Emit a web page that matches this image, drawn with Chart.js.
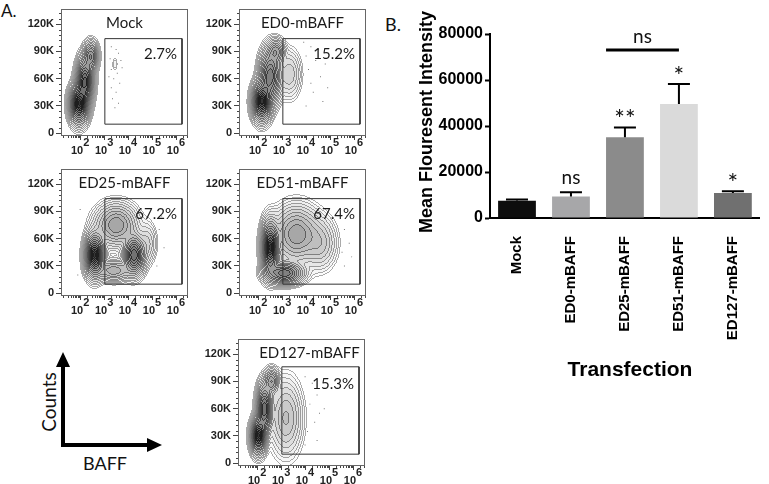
<!DOCTYPE html>
<html>
<head>
<meta charset="utf-8">
<script src="https://cdn.jsdelivr.net/npm/chart.js@4.4.0/dist/chart.umd.min.js"></script>
<style>
  html, body { margin: 0; padding: 0; background: #fff; }
  body { width: 769px; height: 484px; position: relative; overflow: hidden; font-family: Lato, "Open Sans", sans-serif; color: #111; }
  canvas { position: absolute; }
  .lbl { position: absolute; white-space: nowrap; line-height: 1; }
</style>
</head>
<body>
<div class="lbl" style="left:1px; top:2px; font-size:17px;">A.</div>
<div class="lbl" style="left:385px; top:15px; font-size:18px;">B.</div>
<div class="lbl" style="left:48px; top:402px; font-size:19px; transform:translate(-50%,-50%) rotate(-90deg);">Counts</div>
<div class="lbl" style="left:83px; top:454px; font-size:18px;">BAFF</div>
<svg style="position:absolute; left:0; top:330px;" width="180" height="130">
  <line x1="63" y1="117" x2="63" y2="34" stroke="#000" stroke-width="4"/>
  <polygon points="63,22 56,37 70,37" fill="#000"/>
  <line x1="61" y1="115" x2="150" y2="115" stroke="#000" stroke-width="4"/>
  <polygon points="162,115 147,108 147,122" fill="#000"/>
</svg>
<canvas id="barChart" width="389" height="484" style="left:380px; top:0px;"></canvas>

<script>
// ---- flow panels (BAFF vs counts) ----
const flowNames = ["Mock", "ED0-mBAFF", "ED25-mBAFF", "ED51-mBAFF", "ED127-mBAFF"];
const flowPct = ["2.7%", "15.2%", "67.2%", "67.4%", "15.3%"];
const flowYTicks = [0, 30000, 60000, 90000, 120000];
const flowXDecades = [2, 3, 4, 5, 6];
// gate corners: log10(BAFF) and counts (K)
const gateXLog = [[3.03, 6.25], [3.03, 6.25], [3.03, 6.25], [3.03, 6.25], [3.03, 6.25]];
const gateYK = [[10, 104], [10, 104], [10, 104], [10, 104], [10, 106]];

// cell populations: centre (log10 x, K), spread, weight
const mockPops = [
  { x: 1.95, y: 32, sx: 0.2, sy: 11, w: 1 },
  { x: 2.2, y: 58, sx: 0.18, sy: 13, w: 0.85 },
  { x: 2.45, y: 85, sx: 0.15, sy: 8, w: 0.5 },
  { x: 3.45, y: 76, sx: 0.05, sy: 4, w: 0.03 },
];
const ed0Pops = [
  { x: 2.15, y: 35, sx: 0.2, sy: 11, w: 1 },
  { x: 2.5, y: 63, sx: 0.22, sy: 15, w: 0.7 },
  { x: 2.75, y: 90, sx: 0.18, sy: 7, w: 0.35 },
  { x: 3.3, y: 65, sx: 0.25, sy: 14, w: 0.13 },
];
const ed25Pops = [
  { x: 2.6, y: 42, sx: 0.2, sy: 12, w: 1 },
  { x: 4.25, y: 42, sx: 0.22, sy: 11, w: 0.8 },
  { x: 3.5, y: 75, sx: 0.45, sy: 12, w: 0.4 },
  { x: 3.4, y: 25, sx: 0.4, sy: 6, w: 0.3 },
  { x: 4.8, y: 55, sx: 0.2, sy: 12, w: 0.1 },
];
const ed51Pops = [
  { x: 2.5, y: 50, sx: 0.18, sy: 15, w: 1 },
  { x: 3.1, y: 22, sx: 0.4, sy: 6, w: 0.7 },
  { x: 3.6, y: 65, sx: 0.5, sy: 16, w: 0.4 },
  { x: 4.6, y: 55, sx: 0.35, sy: 15, w: 0.15 },
];
const ed127Pops = [
  { x: 2.05, y: 30, sx: 0.16, sy: 10, w: 1 },
  { x: 2.3, y: 60, sx: 0.16, sy: 14, w: 0.8 },
  { x: 2.6, y: 90, sx: 0.15, sy: 7, w: 0.4 },
  { x: 3.2, y: 50, sx: 0.35, sy: 22, w: 0.2 },
];
const flowPops = [mockPops, ed0Pops, ed25Pops, ed51Pops, ed127Pops];

// sparse single events outside the contours: [log10 x, K]
const mockDots = [[3.3, 95], [3.5, 92], [3.6, 88], [3.25, 82], [3.7, 80], [3.3, 70], [3.55, 66], [3.4, 60], [3.65, 55], [3.3, 50], [3.5, 45], [3.35, 38], [3.6, 33], [3.45, 28], [3.2, 62], [3.75, 72]];
const ed0Dots = [[3.9, 100], [4.2, 95], [4.5, 92], [4.0, 85], [4.4, 80], [4.8, 76], [4.1, 70], [4.6, 62], [4.2, 55], [4.9, 50], [4.3, 45], [4.0, 30], [4.7, 35], [1.7, 15]];
const ed25Dots = [[5.3, 70], [5.5, 50], [5.2, 30], [2.0, 92], [5.4, 85], [1.9, 20]];
const ed51Dots = [[5.6, 70], [5.8, 55], [5.5, 45], [5.9, 40], [5.7, 85], [5.6, 30]];
const ed127Dots = [[4.0, 95], [4.3, 88], [4.5, 75], [4.2, 65], [4.6, 55], [4.4, 45], [4.1, 35], [4.5, 25], [4.8, 60], [4.0, 20]];
const flowDots = [mockDots, ed0Dots, ed25Dots, ed51Dots, ed127Dots];

// ---- bar chart (mean fluorescence) ----
const barCats = ["Mock", "ED0-mBAFF", "ED25-mBAFF", "ED51-mBAFF", "ED127-mBAFF"];
const barMeans = [7500, 9300, 35100, 49600, 10900];
const barErrors = [500, 1900, 4300, 8700, 700];
const barSig = ["", "ns", "**", "*", "*"];
const barYTicks = [0, 20000, 40000, 60000, 80000];
const bracketCats = [2, 3];
const bracketValue = 73000;
const bracketLabel = "ns";

const barColors = ["#0d0d0d", "#a7a7a9", "#8b8b8b", "#dadada", "#707070"];
const sans = '"Liberation Sans", Arial, sans-serif';
const calib = 'Lato, "Open Sans", sans-serif';

// frame position (page px) of each flow panel
const flowFrames = [
  { left: 61, top: 5 }, { left: 239, top: 5 },
  { left: 61, top: 165 }, { left: 239, top: 165 },
  { left: 238, top: 335 },
];

function drawDensity(chart, pops) {
  const a = chart.chartArea, xs = chart.scales.x, ys = chart.scales.y;
  const x0 = Math.round(a.left), y0 = Math.round(a.top);
  const w = Math.round(a.right) - x0, h = Math.round(a.bottom) - y0;
  const dens = new Float32Array(w * h);
  let max = 0;
  for (let j = 0; j < h; j++) {
    const yv = ys.getValueForPixel(y0 + j + 0.5) / 1000;
    for (let i = 0; i < w; i++) {
      const xv = Math.log10(xs.getValueForPixel(x0 + i + 0.5));
      let d = 0;
      for (const p of pops) {
        const dx = (xv - p.x) / p.sx, dy = (yv - p.y) / p.sy;
        d += p.w * Math.exp(-0.5 * (dx * dx + dy * dy));
      }
      dens[j * w + i] = d;
      if (d > max) max = d;
    }
  }
  const N = 18, R = 3.0;
  const band = new Int16Array(w * h);
  for (let k = 0; k < w * h; k++) {
    const d = dens[k] / max;
    const r = d > 0 ? Math.sqrt(-2 * Math.log(d)) : 99;
    band[k] = r >= R ? N : Math.floor((r / R) * N);
  }
  const img = chart.ctx.createImageData(w, h);
  for (let j = 0; j < h; j++) {
    for (let i = 0; i < w; i++) {
      const k = j * w + i, b = band[k];
      let line = false;
      if (i > 0 && band[k - 1] < b) line = true;
      if (i < w - 1 && band[k + 1] < b) line = true;
      if (j > 0 && band[k - w] < b) line = true;
      if (j < h - 1 && band[k + w] < b) line = true;
      if (b >= N && !line) continue;
      const fill = b >= N ? 255 : 255 - 200 * Math.pow(1 - b / N, 1.4);
      const g = line ? Math.max(30, fill - 85) : fill;
      img.data[k * 4] = g; img.data[k * 4 + 1] = g; img.data[k * 4 + 2] = g; img.data[k * 4 + 3] = 255;
    }
  }
  chart.ctx.putImageData(img, x0, y0);
}

const flowPlugin = {
  id: "flow",
  beforeDatasetsDraw(chart, args, opts) {
    drawDensity(chart, flowPops[opts.idx]);
  },
  afterDatasetsDraw(chart, args, opts) {
    const ctx = chart.ctx, a = chart.chartArea, xs = chart.scales.x, ys = chart.scales.y;
    const idx = opts.idx;
    ctx.save();
    // frame
    ctx.strokeStyle = "#666";
    ctx.lineWidth = 1;
    ctx.strokeRect(Math.round(a.left) + 0.5, Math.round(a.top) + 0.5, Math.round(a.right - a.left) - 1, Math.round(a.bottom - a.top) - 1);
    // log ticks under the x axis
    ctx.strokeStyle = "#444";
    ctx.beginPath();
    for (let d = 1; d <= 6; d++) {
      for (let m = 1; m <= 9; m++) {
        const v = m * Math.pow(10, d);
        if (v < xs.min || v > xs.max) continue;
        const px = Math.round(xs.getPixelForValue(v)) + 0.5;
        ctx.moveTo(px, a.bottom);
        ctx.lineTo(px, a.bottom + (m === 1 ? 4 : 2));
      }
    }
    // minor ticks on y
    for (let v = 6000; v < 137000; v += 6000) {
      if (v % 30000 === 0) continue;
      const py = Math.round(ys.getPixelForValue(v)) + 0.5;
      ctx.moveTo(a.left, py);
      ctx.lineTo(a.left - 2, py);
    }
    ctx.stroke();
    // x tick labels 10^n
    ctx.fillStyle = "#222";
    ctx.font = "bold 11px " + sans;
    ctx.textBaseline = "alphabetic";
    flowXDecades.forEach((d) => {
      const px = xs.getPixelForValue(Math.pow(10, d));
      ctx.textAlign = "right";
      ctx.fillText("10", px + 3, a.bottom + 18);
      ctx.textAlign = "left";
      ctx.fillText(String(d), px + 3, a.bottom + 10);
    });
    // title and gate percentage
    ctx.font = "15px " + calib;
    ctx.textBaseline = "middle";
    ctx.textAlign = "center";
    ctx.fillStyle = "#1a1a1a";
    ctx.fillText(flowNames[idx], (a.left + a.right) / 2 + (idx === 4 ? 8 : 0), a.top + 15);
    ctx.textAlign = "right";
    ctx.fillText(flowPct[idx], a.right - 11, a.top + 46);
    ctx.restore();
  },
};

flowFrames.forEach((f, idx) => {
  const cv = document.createElement("canvas");
  cv.width = 195;
  cv.height = 160;
  cv.style.left = f.left - 61 + "px";
  cv.style.top = f.top - 5 + "px";
  document.body.appendChild(cv);
  const gx = gateXLog[idx].map((v) => Math.pow(10, v));
  const gy = gateYK[idx].map((v) => v * 1000);
  const gatePts = [
    { x: gx[0], y: gy[0] }, { x: gx[0], y: gy[1] },
    { x: gx[1], y: gy[1] }, { x: gx[1], y: gy[0] }, { x: gx[0], y: gy[0] },
  ];
  const dotPts = flowDots[idx].map((p) => ({ x: Math.pow(10, p[0]), y: p[1] * 1000 }));
  new Chart(cv, {
    type: "scatter",
    data: {
      datasets: [
        {
          data: dotPts, showLine: false, pointRadius: 0.7, pointBorderWidth: 0,
          pointBackgroundColor: "#777", pointStyle: "rect",
        },
        {
          data: gatePts, showLine: true, borderColor: "#333", borderWidth: 1,
          pointRadius: 0, fill: false, tension: 0,
        },
      ],
    },
    options: {
      responsive: false,
      animation: false,
      devicePixelRatio: 1,
      layout: { padding: { top: 5, right: 7, left: 0, bottom: 0 } },
      plugins: { legend: { display: false }, tooltip: { enabled: false }, flow: { idx } },
      scales: {
        x: {
          type: "logarithmic",
          min: Math.pow(10, 1.2),
          max: Math.pow(10, 6.5),
          ticks: { display: false },
          grid: { display: false },
          border: { display: false },
          afterFit: (s) => { s.height = 24; },
        },
        y: {
          min: -3000,
          max: 137000,
          afterBuildTicks: (s) => { s.ticks = flowYTicks.map((v) => ({ value: v })); },
          ticks: {
            font: { family: sans, size: 11, weight: "bold" },
            color: "#222",
            padding: 2,
            callback: (v) => (v === 0 ? "0" : v / 1000 + "K"),
          },
          grid: { drawOnChartArea: false, tickLength: 5, color: "#444" },
          border: { display: false },
          afterFit: (s) => { s.width = 61; },
        },
      },
    },
    plugins: [flowPlugin],
  });
});

// ---- bar chart ----
const barPlugin = {
  id: "barExtras",
  afterDatasetsDraw(chart) {
    const ctx = chart.ctx, ys = chart.scales.y;
    const bars = chart.getDatasetMeta(0).data;
    ctx.save();
    ctx.strokeStyle = "#000";
    ctx.fillStyle = "#111";
    ctx.lineWidth = 2;
    bars.forEach((bar, i) => {
      const yTop = ys.getPixelForValue(barMeans[i] + barErrors[i]);
      const yBase = ys.getPixelForValue(barMeans[i]);
      ctx.beginPath();
      ctx.moveTo(bar.x, yBase);
      ctx.lineTo(bar.x, yTop);
      ctx.moveTo(bar.x - 11, yTop);
      ctx.lineTo(bar.x + 11, yTop);
      ctx.stroke();
      if (barSig[i]) {
        const star = barSig[i].charAt(0) === "*";
        ctx.font = (star ? "25px " : "19px ") + calib;
        ctx.textAlign = "center";
        ctx.textBaseline = "alphabetic";
        ctx.fillText(barSig[i], bar.x, star ? yTop + 1 : yTop - 8);
      }
    });
    // significance bracket
    const b0 = bars[bracketCats[0]], b1 = bars[bracketCats[1]];
    const by = ys.getPixelForValue(bracketValue);
    ctx.lineWidth = 3;
    ctx.beginPath();
    ctx.moveTo(b0.x - b0.width / 2, by);
    ctx.lineTo(b1.x, by);
    ctx.stroke();
    ctx.font = "19px " + calib;
    ctx.textAlign = "center";
    ctx.fillText(bracketLabel, (b0.x - b0.width / 2 + b1.x) / 2, by - 7);
    // axis titles
    ctx.fillStyle = "#000";
    ctx.font = "bold 18px " + sans;
    ctx.textBaseline = "middle";
    ctx.save();
    ctx.translate(47, 122);
    ctx.rotate(-Math.PI / 2);
    ctx.fillText("Mean Flouresent Intensity", 0, 0);
    ctx.restore();
    ctx.font = "bold 21px " + sans;
    ctx.fillText("Transfection", 250, 370);
    ctx.restore();
  },
};

new Chart(document.getElementById("barChart"), {
  type: "bar",
  data: {
    labels: barCats,
    datasets: [{
      data: barMeans,
      backgroundColor: barColors,
      borderWidth: 0,
      barPercentage: 0.7,
      categoryPercentage: 1.0,
    }],
  },
  options: {
    responsive: false,
    animation: false,
    devicePixelRatio: 1,
    layout: { padding: { top: 34, right: 1, left: 0, bottom: 0 } },
    plugins: { legend: { display: false }, tooltip: { enabled: false } },
    scales: {
      x: {
        ticks: {
          minRotation: 90, maxRotation: 90, padding: 18,
          font: { family: sans, size: 15, weight: "bold" }, color: "#000",
        },
        grid: { display: true, drawOnChartArea: false, drawTicks: false },
        border: { display: true, color: "#000", width: 2 },
        afterFit: (s) => { s.height = 266; },
      },
      y: {
        min: 0,
        max: 80000,
        afterBuildTicks: (s) => { s.ticks = barYTicks.map((v) => ({ value: v })); },
        ticks: {
          font: { family: sans, size: 16, weight: "bold" }, color: "#000", padding: 2,
          callback: (v) => String(v),
        },
        grid: { drawOnChartArea: false, tickLength: 5, tickWidth: 2, tickColor: "#000" },
        border: { display: true, color: "#000", width: 2 },
        afterFit: (s) => { s.width = 110; },
      },
    },
  },
  plugins: [barPlugin],
});
</script>
</body>
</html>
